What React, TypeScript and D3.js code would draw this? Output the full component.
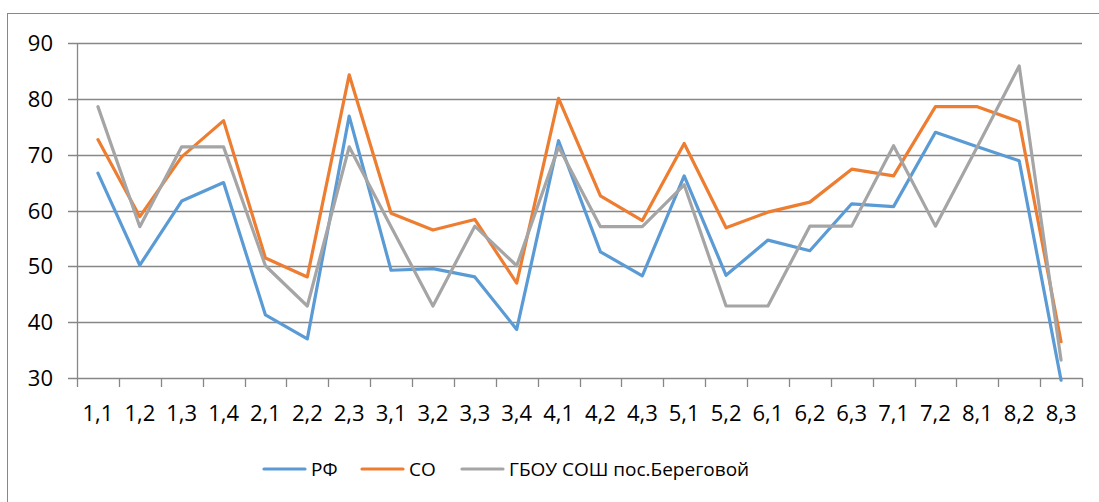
import { useEffect, useRef } from 'react'
import * as d3 from 'd3'

const W = 1099, H = 502
const LEFT = 77, RIGHT = 1082, TOP = 43, BOTTOM = 378

const categories = ['1,1', '1,2', '1,3', '1,4', '2,1', '2,2', '2,3', '3,1', '3,2', '3,3', '3,4', '4,1',
  '4,2', '4,3', '5,1', '5,2', '6,1', '6,2', '6,3', '7,1', '7,2', '8,1', '8,2', '8,3']
const rf = [66.7, 50.2, 61.7, 65.0, 41.3, 37.0, 76.9, 49.3, 49.6, 48.1, 38.7, 72.5,
  52.6, 48.3, 66.2, 48.4, 54.7, 52.8, 61.2, 60.7, 74.0, 71.4, 68.9, 29.6]
const so = [72.7, 58.9, 69.6, 76.1, 51.5, 48.1, 84.3, 59.5, 56.5, 58.4, 47.0, 80.1,
  62.6, 58.2, 72.0, 56.9, 59.7, 61.5, 67.4, 66.2, 78.6, 78.6, 75.9, 36.5]
const school = [78.6, 57.1, 71.4, 71.4, 50.1, 42.9, 71.4, 57.1, 42.9, 57.2, 50.1, 71.4,
  57.1, 57.1, 64.6, 42.9, 42.9, 57.2, 57.2, 71.6, 57.2, 71.4, 85.9, 33.2]
const yTicks = [30, 40, 50, 60, 70, 80, 90]

const series = [
  { name: 'РФ', values: rf, color: '#5B9BD5' },
  { name: 'СО', values: so, color: '#ED7D31' },
  { name: 'ГБОУ СОШ пос.Береговой', values: school, color: '#A5A5A5' },
]
const legendX = [264, 362, 462]

const FONT = '"Open Sans", sans-serif'

export default function App() {
  const ref = useRef<SVGSVGElement>(null)

  useEffect(() => {
    if (!ref.current) return
    const svg = d3.select(ref.current)
    svg.selectAll('*').remove()

    const x = d3.scaleBand().domain(categories).range([LEFT, RIGHT])
    const y = d3.scaleLinear().domain([30, 90]).range([BOTTOM, TOP])

    svg.append('rect').attr('width', W).attr('height', H).attr('fill', '#fff')
    // chart border
    svg.append('rect')
      .attr('x', 7.5).attr('y', 13.5).attr('width', 1110).attr('height', 520)
      .attr('fill', 'none').attr('stroke', '#888').attr('stroke-width', 1)

    // gridlines + y ticks
    svg.append('g').selectAll('line').data(yTicks).join('line')
      .attr('x1', LEFT - 9).attr('x2', RIGHT)
      .attr('y1', d => Math.round(y(d)) + 0.5).attr('y2', d => Math.round(y(d)) + 0.5)
      .attr('stroke', '#878787').attr('stroke-width', 1.3)

    svg.append('g').selectAll('text').data(yTicks).join('text')
      .attr('x', 53).attr('y', d => y(d) + 8)
      .attr('text-anchor', 'end').attr('font-family', FONT).attr('font-size', 22)
      .attr('fill', '#000').text(d => d)

    // y axis line
    svg.append('line').attr('x1', LEFT + 0.5).attr('x2', LEFT + 0.5)
      .attr('y1', TOP).attr('y2', BOTTOM)
      .attr('stroke', '#878787').attr('stroke-width', 1.3)

    // x ticks
    const bounds = categories.map(c => x(c)!).concat([RIGHT])
    svg.append('g').selectAll('line').data(bounds).join('line')
      .attr('x1', d => Math.round(d) + 0.5).attr('x2', d => Math.round(d) + 0.5)
      .attr('y1', BOTTOM).attr('y2', BOTTOM + 9)
      .attr('stroke', '#878787').attr('stroke-width', 1.3)

    svg.append('g').selectAll('text').data(categories).join('text')
      .attr('x', d => x(d)! + x.bandwidth() / 2).attr('y', 421)
      .attr('text-anchor', 'middle').attr('font-family', FONT).attr('font-size', 22)
      .attr('fill', '#000').text(d => d)

    // series lines
    const line = d3.line<number>()
      .x((_, i) => x(categories[i])! + x.bandwidth() / 2)
      .y(d => y(d))
    series.forEach(s => {
      svg.append('path')
        .attr('d', line(s.values))
        .attr('fill', 'none').attr('stroke', s.color)
        .attr('stroke-width', 3.2).attr('stroke-linejoin', 'round').attr('stroke-linecap', 'round')
    })

    // legend
    series.forEach((s, i) => {
      const lx = legendX[i]
      svg.append('line').attr('x1', lx).attr('x2', lx + 41).attr('y1', 469).attr('y2', 469)
        .attr('stroke', s.color).attr('stroke-width', 3.2).attr('stroke-linecap', 'round')
      svg.append('text').attr('x', lx + 47).attr('y', 476)
        .attr('font-family', FONT).attr('font-size', 19).attr('fill', '#000').text(s.name)
    })
  }, [])

  return <svg ref={ref} width={W} height={H} style={{ position: 'absolute', left: 0, top: 0 }} />
}
